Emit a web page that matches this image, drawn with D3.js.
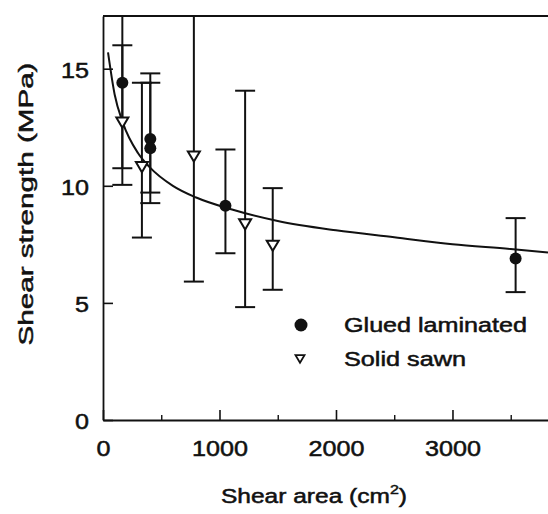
<!DOCTYPE html>
<html>
<head>
<meta charset="utf-8">
<script src="https://cdn.jsdelivr.net/npm/d3@7"></script>
<style>
  html, body { margin: 0; padding: 0; background: #fff; }
  svg { display: block; font-family: 'Liberation Sans', Arial, sans-serif; }
  svg text { stroke: #111; stroke-width: 0.5px; }
</style>
</head>
<body>
<div id="chart"></div>
<script>
// Shear strength vs shear area, glued laminated vs solid sawn.
// Error bars; bars that run past the top frame are clipped.

// Glued laminated (filled circles)
const gluedArea = [166, 406, 406, 1051, 3542];
const gluedMean = [14.4, 12.0, 11.6, 9.15, 6.9];
const gluedHigh = [16.0, 14.8, 14.4, 11.55, 8.62];
const gluedLow  = [10.75, 9.26, 9.71, 7.12, 5.46];

// Solid sawn (open triangles)
const sawnArea = [166, 334, 780, 1220, 1457];
const sawnMean = [12.7, 10.8, 11.25, 8.35, 7.44];
const sawnHigh = [18.5, 14.4, 18.5, 14.06, 9.9];
const sawnLow  = [10.04, 7.79, 5.91, 4.82, 5.56];

// Fitted curve
const fitArea = [43, 100, 170, 300, 400, 600, 800, 1100, 1500, 2000, 2500, 3000, 3500, 3820];
const fitMPa  = [15.7, 13.9, 12.7, 11.4, 10.8, 10.0, 9.5, 9.0, 8.5, 8.1, 7.8, 7.5, 7.3, 7.15];

const xMajor = [0, 1000, 2000, 3000];
const xMinor = [500, 1500, 2500, 3500];
const yMajor = [0, 5, 10, 15];

const legendLabels = ['Glued laminated', 'Solid sawn'];

const W = 548, H = 514;
const M = { top: 16, left: 103, bottom: 420, right: 548 };

const x = d3.scaleLinear().domain([0, 3820]).range([M.left, M.right]);
const y = d3.scaleLinear().domain([0, 17.25]).range([M.bottom, M.top]);

const svg = d3.select('#chart').append('svg')
  .attr('width', W).attr('height', H)
  .attr('viewBox', `0 0 ${W} ${H}`);

svg.append('defs').append('clipPath').attr('id', 'plot-clip')
  .append('rect')
  .attr('x', M.left).attr('y', M.top)
  .attr('width', M.right - M.left).attr('height', M.bottom - M.top);

const INK = '#111';

function styleAxis(ax) {
  ax.select('.domain').attr('stroke', INK).attr('stroke-width', 1.8);
  ax.selectAll('.tick line').attr('stroke', INK).attr('stroke-width', 1.6);
  ax.selectAll('.tick text')
    .attr('fill', INK)
    .attr('font-size', 22)
    .attr('font-family', "'Liberation Sans', Arial, sans-serif")
    .attr('lengthAdjust', 'spacingAndGlyphs')
    .attr('textLength', d => String(d).length * 14);
}

// Y axis
svg.append('g')
  .attr('transform', `translate(${M.left},0)`)
  .call(d3.axisLeft(y).tickValues(yMajor).tickFormat(d3.format('d'))
    .tickSize(-10).tickSizeOuter(0).tickPadding(14))
  .call(styleAxis)
  .call(ax => ax.selectAll('.tick text').attr('dy', '0.4em'));

// X axis
svg.append('g')
  .attr('transform', `translate(0,${M.bottom})`)
  .call(d3.axisBottom(x).tickValues(xMajor).tickFormat(d3.format('d'))
    .tickSize(-10).tickSizeOuter(0).tickPadding(20))
  .call(styleAxis);

svg.append('g')
  .attr('transform', `translate(0,${M.bottom})`)
  .call(d3.axisBottom(x).tickValues(xMinor).tickSize(-5).tickFormat(''))
  .call(ax => ax.select('.domain').remove())
  .call(ax => ax.selectAll('.tick line').attr('stroke', INK).attr('stroke-width', 1.4));

// Top frame
svg.append('line')
  .attr('x1', M.left).attr('x2', M.right)
  .attr('y1', M.top).attr('y2', M.top)
  .attr('stroke', INK).attr('stroke-width', 1.8);

const plot = svg.append('g').attr('clip-path', 'url(#plot-clip)');

// Fitted curve
plot.append('path')
  .datum(fitArea.map((a, i) => [a, fitMPa[i]]))
  .attr('fill', 'none')
  .attr('stroke', INK)
  .attr('stroke-width', 2)
  .attr('d', d3.line().x(d => x(d[0])).y(d => y(d[1])).curve(d3.curveMonotoneX));

// Error bars
const CAP = 10;
function errorBars(area, hi, lo) {
  const g = plot.append('g').attr('stroke', INK).attr('stroke-width', 2);
  area.forEach((a, i) => {
    const cx = x(a);
    g.append('line').attr('x1', cx).attr('x2', cx).attr('y1', y(hi[i])).attr('y2', y(lo[i]));
    [hi[i], lo[i]].forEach(v => {
      g.append('line').attr('x1', cx - CAP).attr('x2', cx + CAP).attr('y1', y(v)).attr('y2', y(v));
    });
  });
}
errorBars(gluedArea, gluedHigh, gluedLow);
errorBars(sawnArea, sawnHigh, sawnLow);

// Triangle (pointing down) path centred on 0,0
function triDown(s) {
  const h = s * 0.85;
  return `M${-s / 2},${-h / 2}L${s / 2},${-h / 2}L0,${h / 2}Z`;
}

plot.selectAll('.sawn')
  .data(sawnArea.map((a, i) => [a, sawnMean[i]]))
  .enter().append('path')
  .attr('class', 'sawn')
  .attr('transform', d => `translate(${x(d[0])},${y(d[1])})`)
  .attr('d', triDown(12))
  .attr('fill', '#fff')
  .attr('stroke', INK)
  .attr('stroke-width', 2);

plot.selectAll('.glued')
  .data(gluedArea.map((a, i) => [a, gluedMean[i]]))
  .enter().append('circle')
  .attr('class', 'glued')
  .attr('cx', d => x(d[0])).attr('cy', d => y(d[1]))
  .attr('r', 6)
  .attr('fill', INK);

// Legend
const lg = svg.append('g');
lg.append('circle').attr('cx', 301).attr('cy', 325).attr('r', 6.5).attr('fill', INK);
lg.append('path')
  .attr('transform', 'translate(300,359)')
  .attr('d', triDown(9))
  .attr('fill', '#fff').attr('stroke', INK).attr('stroke-width', 1.8);
const legendW = [183, 122];
legendLabels.forEach((t, i) => {
  lg.append('text')
    .attr('x', 344).attr('y', 332 + i * 34)
    .attr('font-size', 20).attr('fill', INK)
    .attr('lengthAdjust', 'spacingAndGlyphs')
    .attr('textLength', legendW[i])
    .text(t);
});

// Axis titles
const xt = svg.append('text')
  .attr('x', 221).attr('y', 503)
  .attr('font-size', 20).attr('fill', INK)
  .attr('lengthAdjust', 'spacingAndGlyphs')
  .attr('textLength', 186);
xt.append('tspan').text('Shear area (cm');
xt.append('tspan').attr('font-size', 13).attr('dy', -9).text('2');
xt.append('tspan').attr('dy', 9).text(')');

svg.append('text')
  .attr('transform', 'translate(33,204) rotate(-90)')
  .attr('text-anchor', 'middle')
  .attr('font-size', 21).attr('fill', INK)
  .attr('lengthAdjust', 'spacingAndGlyphs')
  .attr('textLength', 283)
  .text('Shear strength (MPa)');
</script>
</body>
</html>
